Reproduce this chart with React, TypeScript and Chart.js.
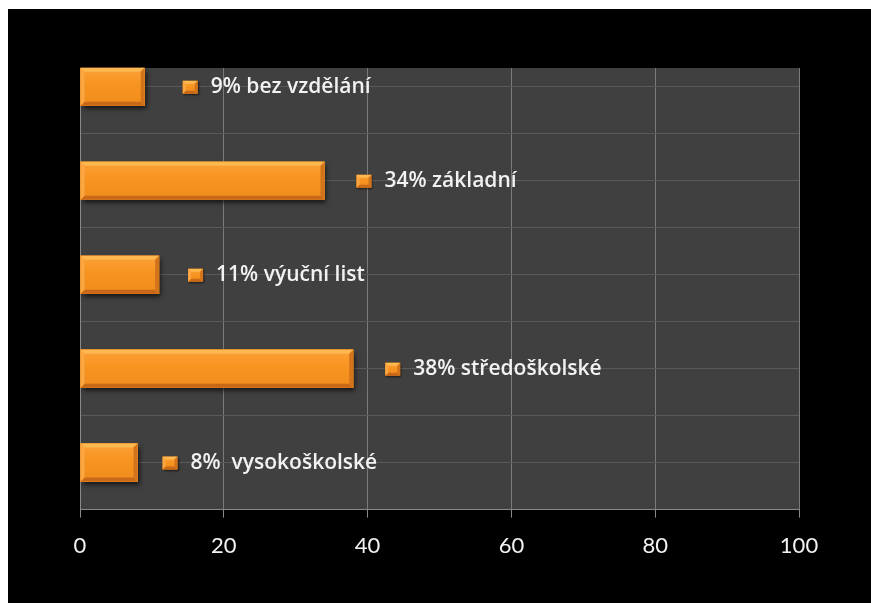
import React, { useEffect, useRef } from "react";
import { Chart, registerables } from "chart.js";

Chart.register(...registerables);

// ---- data ----
const categories = ["bez vzdělání", "základní", "výuční list", "středoškolské", "vysokoškolské"];
const values = [9, 34, 11, 38, 8];
const dataLabels = ["9% bez vzdělání", "34% základní", "11% výuční list", "38% středoškolské", "8%  vysokoškolské"];
const xTicks = [0, 20, 40, 60, 80, 100];

// ---- layout / style (not data) ----
const LABEL_GAP = [38, 32, 29, 32, 25];

function drawBevelRect(ctx: CanvasRenderingContext2D, l: number, t: number, r: number, b: number, bw: number) {
  const g = ctx.createLinearGradient(0, t, 0, b);
  g.addColorStop(0, "#FBA036");
  g.addColorStop(0.5, "#F7931F");
  g.addColorStop(1, "#F08C1E");
  ctx.fillStyle = g;
  ctx.fillRect(l, t, r - l, b - t);
  const poly = (pts: number[][], c: string) => {
    ctx.beginPath();
    ctx.moveTo(pts[0][0], pts[0][1]);
    for (let i = 1; i < pts.length; i++) ctx.lineTo(pts[i][0], pts[i][1]);
    ctx.closePath();
    ctx.fillStyle = c;
    ctx.fill();
  };
  poly([[l, t], [r, t], [r - bw, t + bw], [l + bw, t + bw]], "#FDB850");
  poly([[l, b], [r, b], [r - bw, b - bw], [l + bw, b - bw]], "#C8691A");
  poly([[l, t], [l + bw, t + bw], [l + bw, b - bw], [l, b]], "#FAA643");
  poly([[r, t], [r - bw, t + bw], [r - bw, b - bw], [r, b]], "#D2741C");
}

const barStylePlugin = {
  id: "barStyle",
  beforeDraw(chart: any) {
    const { ctx, chartArea: a } = chart;
    ctx.save();
    ctx.fillStyle = "#404040";
    ctx.fillRect(a.left, a.top, a.right - a.left, a.bottom - a.top);
    ctx.restore();
  },
  beforeDatasetsDraw(chart: any) {
    const { ctx } = chart;
    const meta = chart.getDatasetMeta(0);
    ctx.save();
    meta.data.forEach((el: any) => {
      const p = el.getProps(["x", "y", "base", "height"], true);
      const l = Math.min(p.base, p.x), r = Math.max(p.base, p.x);
      const t = p.y - p.height / 2, b = p.y + p.height / 2;
      ctx.shadowColor = "rgba(0,0,0,0.7)";
      ctx.shadowBlur = 5;
      ctx.shadowOffsetX = 2;
      ctx.shadowOffsetY = 3;
      ctx.fillStyle = "#000";
      ctx.fillRect(l, t, r - l, b - t);
    });
    ctx.restore();
  },
  afterDatasetsDraw(chart: any) {
    const { ctx } = chart;
    const meta = chart.getDatasetMeta(0);
    ctx.save();
    meta.data.forEach((el: any, i: number) => {
      const p = el.getProps(["x", "y", "base", "height"], true);
      const l = Math.min(p.base, p.x), r = Math.max(p.base, p.x);
      const t = p.y - p.height / 2, b = p.y + p.height / 2;
      drawBevelRect(ctx, l, t, r, b, 4);
      // label marker
      const mx = r + LABEL_GAP[i];
      const my = p.y + 0.5;
      ctx.save();
      ctx.shadowColor = "rgba(0,0,0,0.6)";
      ctx.shadowBlur = 2;
      ctx.shadowOffsetX = 1;
      ctx.shadowOffsetY = 1;
      ctx.fillStyle = "#000";
      ctx.fillRect(mx, my - 6.5, 15, 13);
      ctx.restore();
      drawBevelRect(ctx, mx, my - 6.5, mx + 15, my + 6.5, 3);
      ctx.fillStyle = "#F2F2F2";
      ctx.font = "600 21px 'Open Sans'";
      ctx.textBaseline = "middle";
      ctx.textAlign = "left";
      ctx.fillText(dataLabels[i], mx + 28, my);
    });
    ctx.restore();
  },
};

export default function App() {
  const ref = useRef<HTMLCanvasElement | null>(null);
  useEffect(() => {
    if (!ref.current) return;
    const n = categories.length;
    const chart = new Chart(ref.current, {
      type: "bar",
      data: {
        datasets: [
          {
            label: "vzdělání",
            data: values.map((v, i) => ({ x: v, y: (n - 1 - i) * 2 + 1 })),
            backgroundColor: "#F7931F",
            borderWidth: 0,
            barThickness: 38,
          },
        ],
      },
      options: {
        indexAxis: "y",
        animation: false,
        responsive: false,
        maintainAspectRatio: false,
        layout: { padding: { left: 72, top: 59, right: 72, bottom: 29 } },
        plugins: { legend: { display: false }, tooltip: { enabled: false } },
        scales: {
          x: {
            type: "linear",
            min: xTicks[0],
            max: xTicks[xTicks.length - 1],
            afterBuildTicks: (s: any) => {
              s.ticks = xTicks.map((v) => ({ value: v }));
            },
            grid: { color: "#7A7A7A", tickColor: "#8A8A8A", tickLength: 8, lineWidth: 1 },
            border: { color: "#8A8A8A" },
            ticks: { color: "#F2F2F2", font: { family: "Lato", size: 22 }, padding: 15, maxRotation: 0 },
          },
          y: {
            type: "linear",
            min: 0,
            max: 9.4,
            offset: false,
            ticks: { display: false, stepSize: 1 },
            grid: {
              offset: false,
              drawTicks: false,
              color: (c: any) => {
                const v = c.tick ? c.tick.value : 0;
                return v > 0 && Math.abs(v - Math.round(v)) < 1e-6 ? "#5A5A5A" : "rgba(0,0,0,0)";
              },
            },
            border: { color: "#8A8A8A" },
          },
        },
      },
      plugins: [barStylePlugin],
    });
    return () => chart.destroy();
  }, []);
  return (
    <div style={{ position: "absolute", left: 8, top: 9, width: 863, height: 594, background: "#000" }}>
      <canvas ref={ref} width={863} height={594} style={{ display: "block" }} />
    </div>
  );
}
